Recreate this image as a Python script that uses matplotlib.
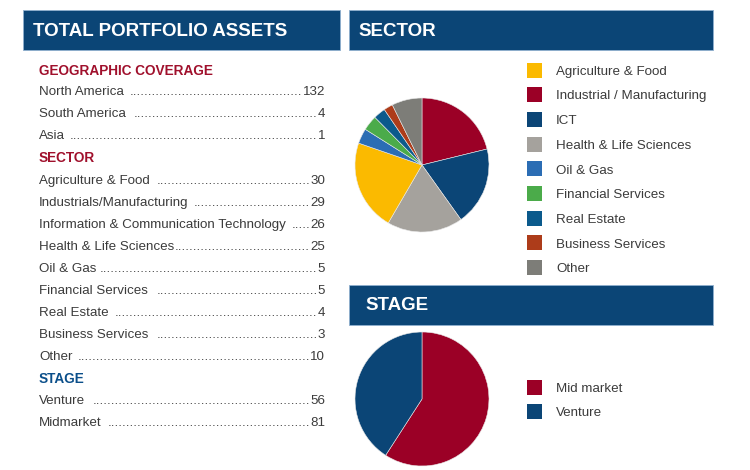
import matplotlib
matplotlib.use("Agg")
import matplotlib.pyplot as plt

# ---------------- data ----------------
geo_labels = ["North America", "South America", "Asia"]
geo_values = [132, 4, 1]

sector_list_labels = ["Agriculture & Food", "Industrials/Manufacturing",
                      "Information & Communication Technology", "Health & Life Sciences",
                      "Oil & Gas", "Financial Services", "Real Estate",
                      "Business Services", "Other"]
sector_list_values = [30, 29, 26, 25, 5, 5, 4, 3, 10]

stage_list_labels = ["Venture", "Midmarket"]
stage_list_values = [56, 81]

# pie order (clockwise from top)
pie_sector_labels = ["Industrial / Manufacturing", "ICT", "Health & Life Sciences",
                     "Agriculture & Food", "Oil & Gas", "Financial Services",
                     "Real Estate", "Business Services", "Other"]
pie_sector_values = [29, 26, 25, 30, 5, 5, 4, 3, 10]

legend_sector_labels = ["Agriculture & Food", "Industrial / Manufacturing", "ICT",
                        "Health & Life Sciences", "Oil & Gas", "Financial Services",
                        "Real Estate", "Business Services", "Other"]

pie_stage_labels = ["Mid market", "Venture"]
pie_stage_values = [81, 56]

# ---------------- style ----------------
NAVY = "#0b4576"
TXT = "#3b3b3b"
sector_colors = {
    "Agriculture & Food": "#fbba00",
    "Industrial / Manufacturing": "#9b0026",
    "ICT": "#0b4576",
    "Health & Life Sciences": "#a5a29d",
    "Oil & Gas": "#2b6db4",
    "Financial Services": "#4bab4a",
    "Real Estate": "#0b5a8c",
    "Business Services": "#ad3c1a",
    "Other": "#7d7d78",
}
stage_colors = {"Mid market": "#9b0026", "Venture": "#0b4576"}

FONT = ["Liberation Sans", "DejaVu Sans"]
plt.rcParams["font.family"] = FONT

W, H = 750, 470
fig = plt.figure(figsize=(W / 100, H / 100), dpi=100)
fig.patch.set_facecolor("white")
DY = 1.8  # text vertical nudge (px)


def fx(px):
    return px / W


def fy(py):
    return 1 - py / H


def header(x0, x1, y0, y1, text, tx):
    fig.patches.append(plt.Rectangle((fx(x0), fy(y1)), fx(x1) - fx(x0), fy(y0) - fy(y1),
                                     transform=fig.transFigure, facecolor=NAVY,
                                     edgecolor="#8fb0cf", linewidth=0.6))
    fig.text(fx(tx), fy((y0 + y1) / 2 + 1), text, color="white", fontsize=13.5,
             fontweight="bold", va="center", ha="left")


header(23, 340, 10, 50, "TOTAL PORTFOLIO ASSETS", 33)
header(349, 713, 10, 50, "SECTOR", 358)
header(349, 713, 285, 325, "STAGE", 365)

# ---------------- left list ----------------
renderer = fig.canvas.get_renderer()
X_L, X_R = 39, 325
BODY = 9.6
no_gap = {"Health & Life Sciences", "Oil & Gas"}


def dotted_row(y, label, value):
    y = y + DY
    t1 = fig.text(fx(X_L), fy(y), label, fontsize=BODY, color=TXT, va="center", ha="left")
    t2 = fig.text(fx(X_R), fy(y), str(value), fontsize=BODY, color=TXT, va="center", ha="right")
    w1 = t1.get_window_extent(renderer).x1
    w2 = t2.get_window_extent(renderer).x0
    probe = fig.text(0, 0, "." * 20, fontsize=BODY)
    dw = probe.get_window_extent(renderer).width / 20
    probe.remove()
    gap = 0 if label in no_gap else 5
    n = int((w2 - w1 - gap) / dw)
    fig.text(w2 / W, fy(y), "." * max(n, 0), fontsize=BODY, color=TXT, va="center", ha="right")


def subhead(y, text, color):
    fig.text(fx(X_L), fy(y + DY), text, fontsize=9.8, fontweight="bold", color=color,
             va="center", ha="left")


subhead(69, "GEOGRAPHIC COVERAGE", "#a0102c")
ys = [90, 112, 134]
for y, l, v in zip(ys, geo_labels, geo_values):
    dotted_row(y, l, v)
subhead(156, "SECTOR", "#a0102c")
ys = [179, 201, 223, 245, 267, 289, 311, 333, 355]
for y, l, v in zip(ys, sector_list_labels, sector_list_values):
    dotted_row(y, l, v)
subhead(377, "STAGE", "#0b4f8a")
ys = [399, 421]
for y, l, v in zip(ys, stage_list_labels, stage_list_values):
    dotted_row(y, l, v)

# ---------------- pies ----------------
def pie_axes(cx, cy, r):
    ax = fig.add_axes([fx(cx - r), fy(cy + r), (2 * r) / W, (2 * r) / H])
    return ax


ax1 = pie_axes(422, 165, 67)
ax1.pie(pie_sector_values, colors=[sector_colors[l] for l in pie_sector_labels],
        startangle=90, counterclock=False,
        wedgeprops=dict(linewidth=0.4, edgecolor="#e8e8e8"))
ax1.set_xlim(-1, 1)
ax1.set_ylim(-1, 1)
ax1.set_aspect("equal")

ax2 = pie_axes(422, 399, 67)
ax2.pie(pie_stage_values, colors=[stage_colors[l] for l in pie_stage_labels],
        startangle=90, counterclock=False,
        wedgeprops=dict(linewidth=0.4, edgecolor="#e8e8e8"))
ax2.set_xlim(-1, 1)
ax2.set_ylim(-1, 1)
ax2.set_aspect("equal")

# ---------------- legends ----------------
def legend_rows(labels, colors, y0, dy):
    for i, l in enumerate(labels):
        y = y0 + i * dy
        fig.patches.append(plt.Rectangle((fx(527), fy(y + 7.5)), 15 / W, 15 / H,
                                         transform=fig.transFigure,
                                         facecolor=colors[l], edgecolor="none"))
        fig.text(fx(556), fy(y + DY), l, fontsize=BODY, color=TXT, va="center", ha="left")


legend_rows(legend_sector_labels, sector_colors, 70, 24.7)
legend_rows(pie_stage_labels, stage_colors, 387, 24.5)

fig.savefig("out.png", dpi=100, facecolor="white")
